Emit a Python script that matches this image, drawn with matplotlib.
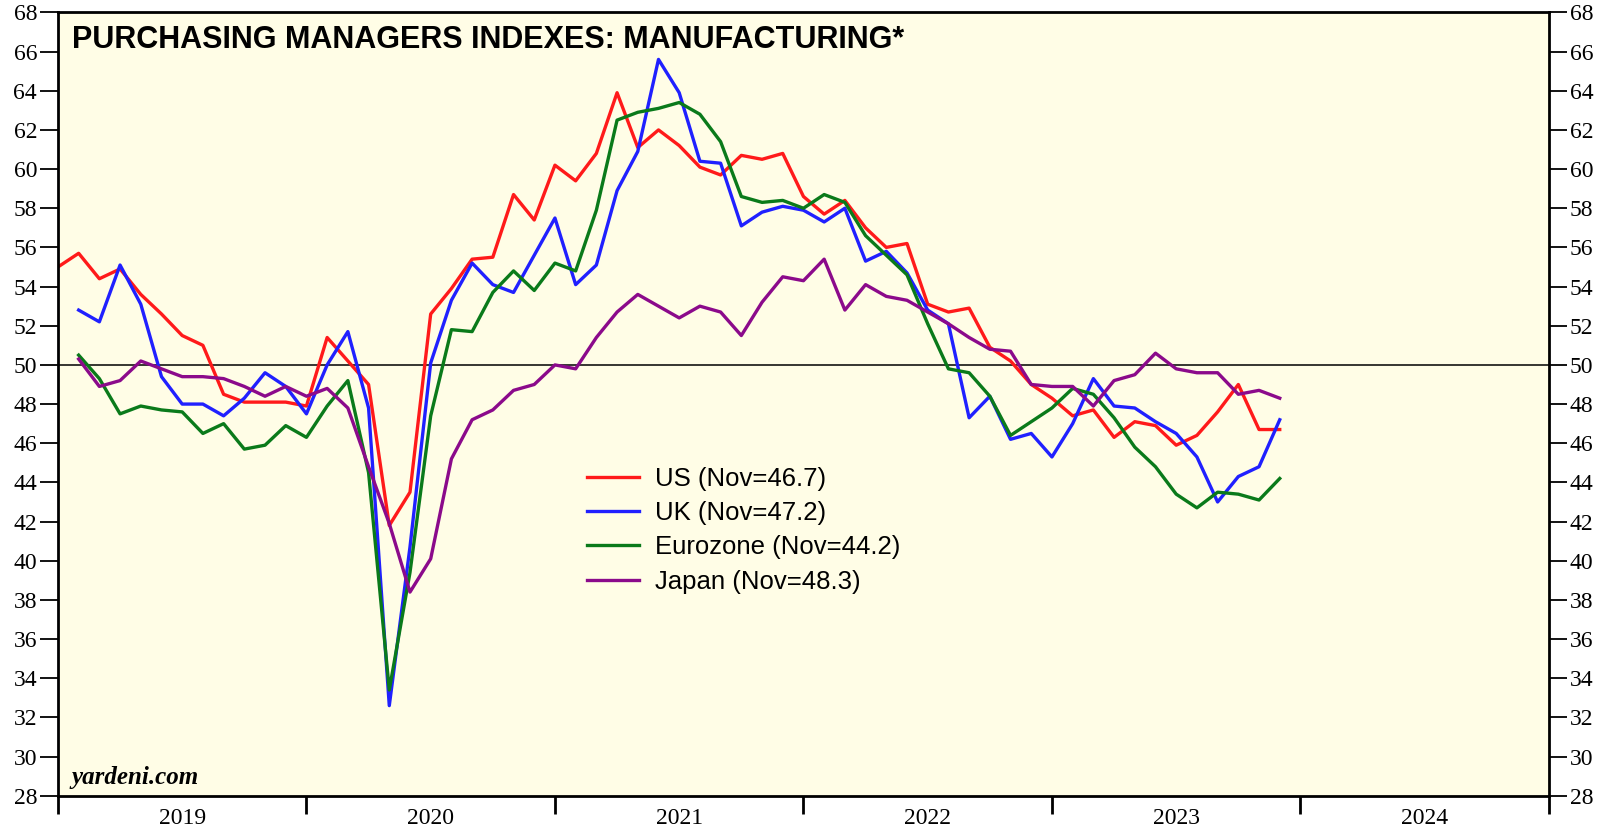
import matplotlib
matplotlib.use("Agg")
import matplotlib.pyplot as plt
import numpy as np

# monthly PMI readings
# US starts Dec 2018, the others Jan 2019; all end Nov 2023
us = [55.0,
      55.7, 54.4, 54.9, 53.6, 52.6, 51.5, 51.0, 48.5, 48.1, 48.1, 48.1, 47.9,
      51.4, 50.2, 49.0, 41.8, 43.5, 52.6, 53.9, 55.4, 55.5, 58.7, 57.4, 60.2,
      59.4, 60.8, 63.9, 61.1, 62.0, 61.2, 60.1, 59.7, 60.7, 60.5, 60.8, 58.6,
      57.7, 58.4, 57.0, 56.0, 56.2, 53.1, 52.7, 52.9, 50.9, 50.2, 49.0, 48.3,
      47.4, 47.7, 46.3, 47.1, 46.9, 45.9, 46.4, 47.6, 49.0, 46.7, 46.7]
uk = [52.8, 52.2, 55.1, 53.1, 49.4, 48.0, 48.0, 47.4, 48.3, 49.6, 48.9, 47.5,
      50.0, 51.7, 47.8, 32.6, 40.7, 50.1, 53.3, 55.2, 54.1, 53.7, 55.6, 57.5,
      54.1, 55.1, 58.9, 60.9, 65.6, 63.9, 60.4, 60.3, 57.1, 57.8, 58.1, 57.9,
      57.3, 58.0, 55.3, 55.8, 54.7, 52.8, 52.1, 47.3, 48.4, 46.2, 46.5, 45.3,
      47.0, 49.3, 47.9, 47.8, 47.1, 46.5, 45.3, 43.0, 44.3, 44.8, 47.2]
eurozone = [50.5, 49.3, 47.5, 47.9, 47.7, 47.6, 46.5, 47.0, 45.7, 45.9, 46.9, 46.3,
            47.9, 49.2, 44.5, 33.4, 39.4, 47.4, 51.8, 51.7, 53.7, 54.8, 53.8, 55.2,
            54.8, 57.9, 62.5, 62.9, 63.1, 63.4, 62.8, 61.4, 58.6, 58.3, 58.4, 58.0,
            58.7, 58.3, 56.6, 55.6, 54.6, 52.1, 49.8, 49.6, 48.4, 46.4, 47.1, 47.8,
            48.8, 48.5, 47.3, 45.8, 44.8, 43.4, 42.7, 43.5, 43.4, 43.1, 44.2]
japan = [50.3, 48.9, 49.2, 50.2, 49.8, 49.4, 49.4, 49.3, 48.9, 48.4, 48.9, 48.4,
         48.8, 47.8, 44.8, 41.9, 38.4, 40.1, 45.2, 47.2, 47.7, 48.7, 49.0, 50.0,
         49.8, 51.4, 52.7, 53.6, 53.0, 52.4, 53.0, 52.7, 51.5, 53.2, 54.5, 54.3,
         55.4, 52.8, 54.1, 53.5, 53.3, 52.7, 52.1, 51.4, 50.8, 50.7, 49.0, 48.9,
         48.9, 47.9, 49.2, 49.5, 50.6, 49.8, 49.6, 49.6, 48.5, 48.7, 48.3]

labels = ['US (Nov=46.7)', 'UK (Nov=47.2)', 'Eurozone (Nov=44.2)', 'Japan (Nov=48.3)']
colors = ['#ff1a1a', '#2020ff', '#0a7a1a', '#8b0a8b']
years = [2019, 2020, 2021, 2022, 2023, 2024]

# points sit at month end: Dec 2018 -> 2019.0
x_us = 2019 + np.arange(len(us)) / 12
x_other = 2019 + (np.arange(len(uk)) + 1) / 12

fig = plt.figure(figsize=(16.14, 8.34), dpi=100)
ax = fig.add_axes([0.0359, 0.0459, 0.9238, 0.9392])
ax.set_facecolor('#fffde6')

ax.plot(x_us, us, color=colors[0], lw=2.4, label=labels[0])
ax.plot(x_other, uk, color=colors[1], lw=2.4, label=labels[1])
ax.plot(x_other, eurozone, color=colors[2], lw=2.4, label=labels[2])
ax.plot(x_other, japan, color=colors[3], lw=2.4, label=labels[3])
ax.axhline(50, color='black', lw=1.1, zorder=1)

ax.set_xlim(2019, 2025)
ax.set_ylim(28, 68)
ax.set_yticks(np.arange(28, 69, 2))
ax.set_xticks(np.arange(2019, 2026))
ax.set_xticklabels([])
ax.set_xticks([y + 0.5 for y in years], minor=True)
ax.set_xticklabels([str(y) for y in years], minor=True,
                   fontfamily='Liberation Serif', fontsize=17)
ax.tick_params(axis='x', which='major', direction='out', length=13, width=2)
ax.tick_params(axis='x', which='minor', length=0, pad=9)
ax.tick_params(axis='y', direction='out', length=13, width=1.3, pad=2,
               left=True, right=True, labelleft=True, labelright=True)
for lab in ax.get_yticklabels():
    lab.set_fontfamily('Liberation Serif')
    lab.set_fontsize(17)
for s in ax.spines.values():
    s.set_linewidth(2)

ax.text(0.0094, 0.955, 'PURCHASING MANAGERS INDEXES: MANUFACTURING*', transform=ax.transAxes,
        fontfamily='Liberation Sans', fontweight='bold', fontsize=22, va='baseline', ha='left')
ax.text(0.0094, 0.015, 'yardeni.com', transform=ax.transAxes,
        fontfamily='Liberation Serif', fontweight='bold', fontstyle='italic', fontsize=18,
        va='baseline', ha='left')

leg = ax.legend(loc='upper left', bbox_to_anchor=(0.355, 0.42), frameon=False,
                prop={'family': 'Liberation Sans', 'size': 18.5}, handlelength=2.0,
                handletextpad=0.62, labelspacing=0.4, borderpad=0, borderaxespad=0)

fig.savefig('out.png', dpi=100, facecolor='white')
